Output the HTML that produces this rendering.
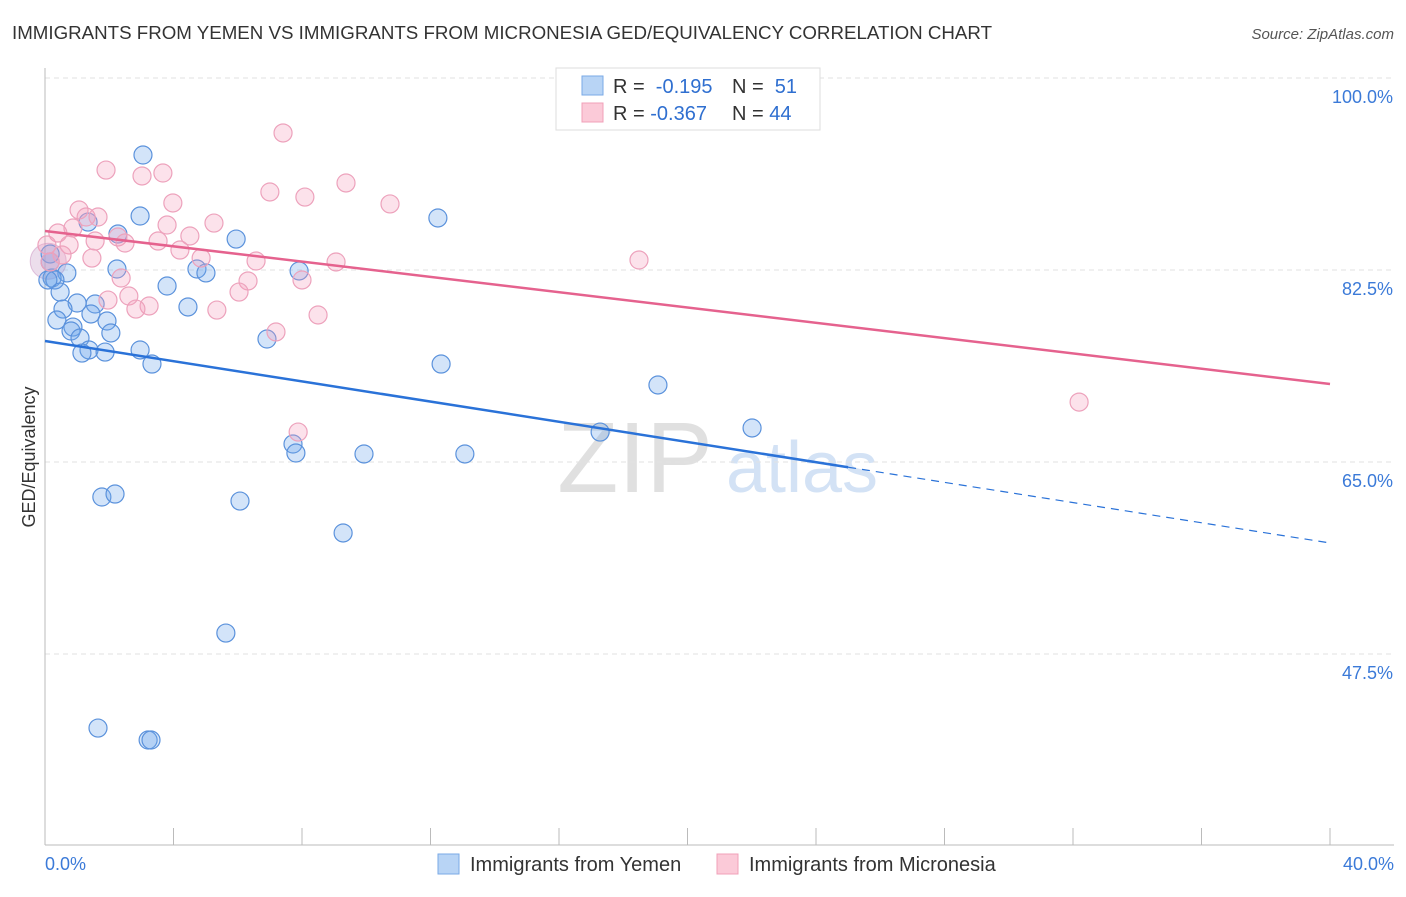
<!DOCTYPE html>
<html><head><meta charset="utf-8"><style>
body{margin:0;background:#fff;font-family:"Liberation Sans",sans-serif;}
svg text{font-family:"Liberation Sans",sans-serif;}
</style></head><body>
<svg id="chart" width="1406" height="892" viewBox="0 0 1406 892">
<text x="12" y="39" font-size="18" fill="#333" textLength="980" lengthAdjust="spacingAndGlyphs">IMMIGRANTS FROM YEMEN VS IMMIGRANTS FROM MICRONESIA GED/EQUIVALENCY CORRELATION CHART</text>
<text x="1394" y="39" font-size="15" fill="#555" text-anchor="end" font-style="italic">Source: ZipAtlas.com</text>
<g>
<text x="635" y="492" font-size="100" fill="#e0e0e0" text-anchor="middle" font-family="Liberation Serif">ZIP</text>
<text x="802" y="492" font-size="72" fill="#d3e2f5" text-anchor="middle">atlas</text>
</g>
<g id="grid"></g>
<g id="axes"></g>
<g id="marks"></g>
<g>
<rect x="556" y="68" width="264" height="62" fill="#fff" stroke="#ddd"/>
<rect x="582" y="76" width="21" height="19" fill="#b8d4f5" stroke="#7aaae6"/>
<rect x="582" y="103" width="21" height="19" fill="#fbcad8" stroke="#f0a0b8"/>
<text x="613" y="93" font-size="20" fill="#333">R = <tspan fill="#2f6fd0">&#160;-0.195</tspan></text>
<text x="732" y="93" font-size="20" fill="#333">N = <tspan fill="#2f6fd0">&#160;51</tspan></text>
<text x="613" y="120" font-size="20" fill="#333">R = <tspan fill="#2f6fd0">-0.367</tspan></text>
<text x="732" y="120" font-size="20" fill="#333">N = <tspan fill="#2f6fd0">44</tspan></text>
</g>
<g>
<rect x="438" y="854" width="21" height="20" fill="#b8d4f5" stroke="#7aaae6"/>
<text x="470" y="871" font-size="20" fill="#333">Immigrants from Yemen</text>
<rect x="717" y="854" width="21" height="20" fill="#fbcad8" stroke="#f0a0b8"/>
<text x="749" y="871" font-size="20" fill="#333">Immigrants from Micronesia</text>
</g>
<text transform="translate(35,457) rotate(-90)" font-size="18" fill="#333" text-anchor="middle">GED/Equivalency</text>
</svg>
<script>
const yTicks=[100,82.5,65,47.5];
const yTickLabels=["100.0%","82.5%","65.0%","47.5%"];
const xTicks=[0,4,8,12,16,20,24,28,32,36,40];
const xEndLabels=["0.0%","40.0%"];
const yemenX=[3.05,2.96,1.34,2.27,5.95,12.23,0.68,2.24,4.73,5.01,7.91,0.22,0.31,0.47,3.80,1.00,1.56,4.45,0.56,1.43,0.37,1.93,0.87,0.81,1.09,2.05,6.91,1.37,1.15,1.87,2.96,3.33,12.33,19.08,17.28,22.01,7.72,7.81,9.93,13.07,1.77,2.18,6.07,9.28,5.63,1.65,3.21,3.30,0.16,0.16,0.09];
const yemenY=[92.98,87.42,86.87,85.78,85.32,87.24,82.23,82.59,82.59,82.23,82.41,81.77,81.59,80.49,81.04,79.49,79.40,79.13,78.94,78.49,77.94,77.85,77.30,76.94,76.30,76.76,76.21,75.21,74.93,75.02,75.21,73.93,73.93,72.02,67.73,68.10,66.64,65.82,65.73,65.73,61.81,62.08,61.44,58.53,49.41,40.75,39.66,39.66,83.96,83.23,81.59];
const microX=[7.41,1.90,3.67,3.02,9.37,7.00,8.09,3.98,10.74,1.06,1.28,1.65,5.26,3.80,0.87,0.40,4.51,2.27,1.56,3.52,2.49,0.75,0.06,4.20,0.53,1.46,4.86,6.57,9.06,18.49,0.16,6.32,8.00,2.37,6.04,2.61,1.96,3.24,2.83,5.35,8.50,7.19,7.88,32.19];
const microY=[94.99,91.61,91.34,91.07,90.43,89.61,89.15,88.61,88.52,87.97,87.33,87.33,86.78,86.60,86.33,85.87,85.60,85.51,85.14,85.14,84.96,84.78,84.78,84.32,83.87,83.59,83.59,83.32,83.23,83.41,83.23,81.50,81.59,81.77,80.49,80.13,79.76,79.22,78.94,78.85,78.40,76.85,67.73,70.46];
const yemenTrend=[76.03,57.62];
const yemenSolidEnd=25;
const microTrend=[86.05,72.11];

const NS="http://www.w3.org/2000/svg";
const X0=45,X1=1330,YTOP=78,YSTEP=192/17.5;
function sx(v){return X0+(v/40)*(X1-X0);}
function sy(v){return YTOP+(100-v)*YSTEP;}
function mk(tag,attrs,parent){const e=document.createElementNS(NS,tag);for(const k in attrs)e.setAttribute(k,attrs[k]);parent.appendChild(e);return e;}
const grid=document.getElementById('grid'),axes=document.getElementById('axes'),marks=document.getElementById('marks');
yTicks.forEach((t,i)=>{
 const l=mk('line',{x1:X0,x2:1394,y1:sy(t),y2:sy(t),stroke:'#e2e2e2','stroke-dasharray':'5,4'},grid);
 
 
 const tx=mk('text',{x:1393,y:sy(t)+25,'font-size':18,fill:'#3b7ad8','text-anchor':'end'},grid);
 tx.textContent=yTickLabels[i];
 
 
});
const ax=mk('line',{x1:X0,x2:X0,y1:68,y2:845,stroke:'#bbb'},axes);


const bx=mk('line',{x1:X0,x2:1394,y1:845,y2:845,stroke:'#bbb'},axes);


xTicks.forEach(t=>{
 const l=mk('line',{x1:sx(t),x2:sx(t),y1:828,y2:845,stroke:'#bbb'},axes);
 
 
});
[[0,'start',45],[40,'end',1394]].forEach((d,i)=>{
 const tx=mk('text',{x:d[2],y:870,'font-size':18,fill:'#3b7ad8','text-anchor':d[1]},axes);
 tx.textContent=xEndLabels[i];
 
 
});
const bc=mk('circle',{cx:sx(0.1),cy:sy(83.3),r:18,fill:'rgba(200,160,200,0.35)',stroke:'rgba(200,140,190,0.5)'},marks);


yemenX.forEach((x,i)=>{
 const c=mk('circle',{cx:sx(x),cy:sy(yemenY[i]),r:9,fill:'rgba(110,165,235,0.3)',stroke:'#5b92dc','stroke-width':1.2},marks);
 
 
});
microX.forEach((x,i)=>{
 const c=mk('circle',{cx:sx(x),cy:sy(microY[i]),r:9,fill:'rgba(245,160,190,0.3)',stroke:'#eda2bc','stroke-width':1.2},marks);
 
 
});
function ty(tr,x){return tr[0]+(tr[1]-tr[0])*x/40;}
const yl=mk('line',{x1:sx(0),y1:sy(yemenTrend[0]),x2:sx(yemenSolidEnd),y2:sy(ty(yemenTrend,yemenSolidEnd)),stroke:'#2a72d8','stroke-width':2.5},marks);


const yd=mk('line',{x1:sx(yemenSolidEnd),y1:sy(ty(yemenTrend,yemenSolidEnd)),x2:sx(40),y2:sy(yemenTrend[1]),stroke:'#2a72d8','stroke-width':1.2,'stroke-dasharray':'8,6'},marks);


const pl=mk('line',{x1:sx(0),y1:sy(microTrend[0]),x2:sx(40),y2:sy(microTrend[1]),stroke:'#e5628e','stroke-width':2.5},marks);


</script>
</body></html>
